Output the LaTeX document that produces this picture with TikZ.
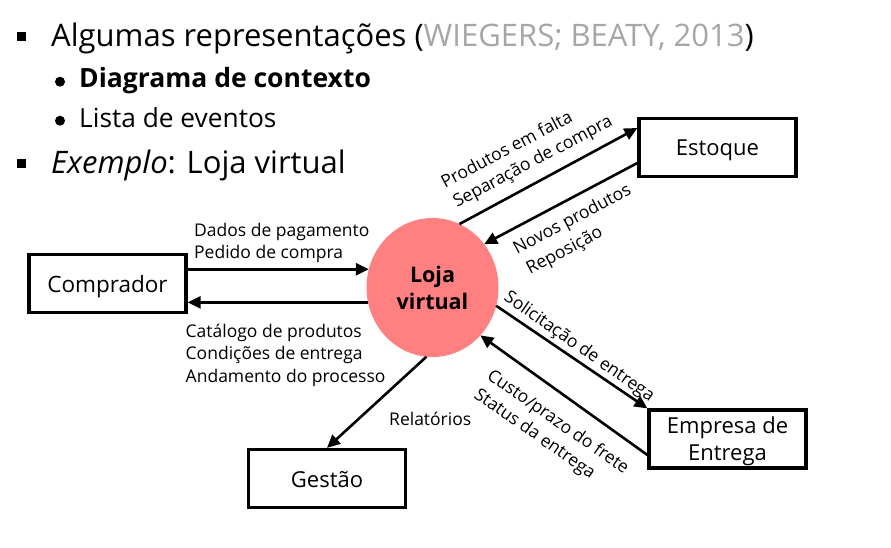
\documentclass[tikz,border=0pt]{standalone}
\usepackage{fontspec}
\setmainfont{Open Sans}
\usetikzlibrary{arrows.meta,shapes.geometric}
\definecolor{lojared}{RGB}{255,128,128}
\definecolor{refgrey}{RGB}{166,166,166}
\begin{document}
\begin{tikzpicture}[x=1pt,y=-1pt,
  box/.style={draw, line width=3.2pt, minimum width=157pt, minimum height=58pt, inner sep=0pt, font=\fontsize{22}{27}\selectfont, align=center},
  onebox/.style={box, text height=17pt, text depth=0pt},
  arr/.style={line width=2.6pt, -{Triangle[length=13pt,width=12pt]}},
  lbl/.style={inner sep=0pt, anchor=base west, font=\fontsize{17.5}{21}\selectfont},
  ttl/.style={inner sep=0pt, anchor=base west},
  sq/.style={fill, rectangle, minimum size=9pt, inner sep=0pt},
  dot/.style={fill, circle, minimum size=10pt, inner sep=0pt}]
\useasboundingbox (0,0) rectangle (891,548);
% title bullets
\node[sq] (b1) at (21.7,36.2) {};
\node[ttl, font=\fontsize{31}{36}\selectfont] (t1) at (51,47) {Algumas representações (\textcolor{refgrey}{WIEGERS; BEATY, 2013})};
\node[dot] (b2) at (60,81.7) {};
\node[ttl, font=\fontsize{26.5}{30}\selectfont\bfseries] (t2) at (79,88) {Diagrama de contexto};
\node[dot] (b3) at (60,120.7) {};
\node[ttl, font=\fontsize{26.3}{30}\selectfont] (t3) at (79,128) {Lista de eventos};
\node[sq] (b4) at (21.7,164) {};
\node[ttl, font=\fontsize{31}{36}\selectfont] (t4) at (51,174) {\textit{Exemplo}: Loja virtual};
% nodes
\node[ellipse, fill=lojared, minimum width=132pt, minimum height=139pt, inner sep=0pt, outer sep=0pt, align=center, font=\fontsize{21.5}{27}\selectfont\bfseries] (loja) at (432.5,287.5) {Loja\\virtual};
\node[onebox, font=\fontsize{22.5}{27}\selectfont] (comp) at (107.5,283.5) {Comprador};
\node[onebox] (est) at (717.5,147.5) {Estoque};
\node[box, text depth=0pt] (emp) at (727.5,439) {Empresa de\\Entrega};
\node[onebox] (ges) at (327,478.5) {Gestão};
% connectors
\draw[arr] (comp.east |- loja.164) -- (loja.164);
\draw[arr] (loja.193) -- (comp.east |- loja.193);
\draw[arr] (loja.265) -- (ges.north);
\draw[arr] (loja.67) -- ([yshift=19.5pt]est.west);
\draw[arr] ([yshift=-15.5pt]est.west) -- (loja.40);
\draw[arr] (loja.344) -- (emp.north west);
\draw[arr] ([yshift=-16pt]emp.west) -- (loja.315);
% labels
\node[lbl] (l1a) at (194,236) {Dados de pagamento};
\node[lbl] (l1b) at (194,258) {Pedido de compra};
\node[lbl] (l2a) at (185.5,337) {Catálogo de produtos};
\node[lbl] (l2b) at (185.5,359.5) {Condições de entrega};
\node[lbl] (l2c) at (185.5,382) {Andamento do processo};
\node[lbl] (l3) at (389,425) {Relatórios};
\node[lbl, rotate=28] (l4a) at (445,189) {Produtos em falta};
\node[lbl, rotate=28] (l4b) at (457,208) {Separação de compra};
\node[lbl, rotate=28] (l5a) at (517,255) {Novos produtos};
\node[lbl, rotate=28] (l5b) at (530,275) {Reposição};
\node[lbl, rotate=-35] (l6) at (503,299.5) {Solicitação de entrega};
\node[lbl, rotate=-35] (l7a) at (486,378) {Custo/prazo do frete};
\node[lbl, rotate=-35] (l7b) at (473,397) {Status da entrega};
\end{tikzpicture}
\end{document}
